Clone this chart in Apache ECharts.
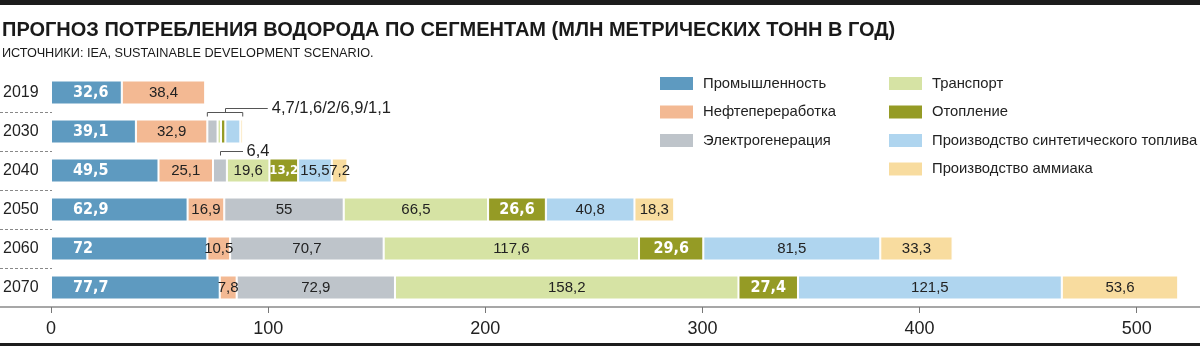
<!DOCTYPE html>
<html>
<head>
<meta charset="utf-8">
<script src="https://cdn.jsdelivr.net/npm/echarts@6/dist/echarts.min.js"></script>
<style>
  html, body { margin: 0; padding: 0; background: #fff; }
  #chart { width: 1200px; height: 346px; }
</style>
</head>
<body>
<div id="chart"></div>
<script>
// ---- data ----
const categories = ['2019', '2030', '2040', '2050', '2060', '2070'];
const seriesNames = ['Промышленность', 'Нефтепереработка', 'Электрогенерация', 'Транспорт', 'Отопление', 'Производство синтетического топлива', 'Производство аммиака'];
const industry  = [32.6, 39.1, 49.5, 62.9, 72, 77.7];
const refining  = [38.4, 32.9, 25.1, 16.9, 10.5, 7.8];
const power     = [null, 4.7, 6.4, 55, 70.7, 72.9];
const transport = [null, 1.6, 19.6, 66.5, 117.6, 158.2];
const heating   = [null, 2, 13.2, 26.6, 29.6, 27.4];
const synfuel   = [null, 6.9, 15.5, 40.8, 81.5, 121.5];
const ammonia   = [null, 1.1, 7.2, 18.3, 33.3, 53.6];
const xTicks = [0, 100, 200, 300, 400, 500];
const title = 'ПРОГНОЗ ПОТРЕБЛЕНИЯ ВОДОРОДА ПО СЕГМЕНТАМ (МЛН МЕТРИЧЕСКИХ ТОНН В ГОД)';
const subtitle = 'ИСТОЧНИКИ: IEA, SUSTAINABLE DEVELOPMENT SCENARIO.';
const note2030 = '4,7/1,6/2/6,9/1,1';
const note2040 = '6,4';

const values = [industry, refining, power, transport, heating, synfuel, ammonia];
const colors = ['#5e9ac0', '#f3b993', '#bec4ca', '#d6e3a4', '#959b25', '#afd5ef', '#f8dc9f'];
const SANS = '"Liberation Sans", Arial, sans-serif';
const COND = '"DejaVu Sans Condensed", "DejaVu Sans", sans-serif';
const fmt = v => String(v).replace('.', ',');

const chart = echarts.init(document.getElementById('chart'), null, { renderer: 'canvas' });

const series = values.map((arr, si) => {
  const bold = si === 0 || si === 4;
  return {
    name: seriesNames[si],
    type: 'bar',
    stack: 'total',
    barWidth: 24,
    data: arr.map(v => (bold && v != null && v < 15) ? { value: v, label: { fontSize: 13 } } : v),
    itemStyle: { color: colors[si], borderColor: '#fff', borderWidth: 1 },
    emphasis: { disabled: true },
    label: {
      show: true,
      position: si === 0 ? 'insideLeft' : 'inside',
      distance: si === 0 ? 22 : 5,
      color: bold ? '#fff' : '#222',
      fontFamily: bold ? COND : SANS,
      fontWeight: bold ? 'bold' : 'normal',
      fontSize: bold ? 16 : 15,
      formatter: p => (p.value == null || p.value < 7) ? '' : fmt(p.value)
    }
  };
});

const legendText = { fontFamily: SANS, fontSize: 14.8, color: '#222', padding: [0, 0, 0, 4] };

chart.setOption({
  animation: false,
  title: [
    { text: title, left: 2, top: 20, padding: 0, textStyle: { fontFamily: SANS, fontWeight: 'bold', fontSize: 20, color: '#1a1a1a' } },
    { text: subtitle, left: 2, top: 47, padding: 0, textStyle: { fontFamily: SANS, fontWeight: 'normal', fontSize: 12.7, color: '#1a1a1a' } }
  ],
  legend: [
    { data: seriesNames.slice(0, 3), orient: 'vertical', left: 658, top: 75, padding: 0, itemWidth: 35, itemHeight: 15, itemGap: 11.5,
      selectedMode: false, icon: 'rect', textStyle: legendText },
    { data: seriesNames.slice(3), orient: 'vertical', left: 887, top: 75, padding: 0, itemWidth: 35, itemHeight: 15, itemGap: 11.5,
      selectedMode: false, icon: 'rect', textStyle: legendText }
  ],
  grid: { left: 50, right: 9, top: 73, height: 234, containLabel: false },
  xAxis: {
    type: 'value', min: 0, max: 525,
    axisLine: { show: false },
    splitLine: { show: false },
    axisTick: { show: true, length: 6, lineStyle: { color: '#777', width: 1 }, customValues: xTicks },
    axisLabel: { customValues: xTicks, margin: 13, fontFamily: SANS, fontSize: 18, color: '#222' }
  },
  yAxis: {
    type: 'category', data: categories, inverse: true,
    axisLine: { show: false }, axisTick: { show: false },
    axisLabel: { align: 'left', margin: 48, fontFamily: SANS, fontSize: 16, color: '#222' }
  },
  series: series
});

// ---- decorations computed from the chart's own scales ----
function decorate() {
  const toPx = (v, cat) => chart.convertToPixel({ gridIndex: 0 }, [v, cat]);
  const g = [];
  const W = chart.getWidth(), H = chart.getHeight();
  const bw = 24;
  // top / bottom rules
  g.push({ type: 'rect', shape: { x: 0, y: 0, width: W, height: 5 }, style: { fill: '#1c1c1c' } });
  g.push({ type: 'rect', shape: { x: 0, y: H - 3, width: W, height: 3 }, style: { fill: '#1c1c1c' } });
  // axis line spanning full width
  const yAxisLine = toPx(0, categories[categories.length - 1])[1] + 39 / 2;
  g.push({ type: 'line', shape: { x1: 0, y1: yAxisLine, x2: W, y2: yAxisLine }, style: { stroke: '#8a8a8a', lineWidth: 1.5 } });
  // dashed separators between rows
  for (let i = 0; i < categories.length - 1; i++) {
    const y = Math.round((toPx(0, categories[i])[1] + toPx(0, categories[i + 1])[1]) / 2) + 0.5;
    g.push({ type: 'line', shape: { x1: 0, y1: y, x2: 52, y2: y }, style: { stroke: '#888', lineWidth: 1, lineDash: [3, 2] } });
  }
  const st = { stroke: '#555', lineWidth: 1, fill: null };
  // 2030 bracket annotation
  {
    const i = 1, cat = categories[i];
    const s = industry[i] + refining[i];
    const e = s + power[i] + transport[i] + heating[i] + synfuel[i] + ammonia[i];
    const [x1, yc] = toPx(s, cat);
    const x2 = toPx(e, cat)[0];
    const top = yc - bw / 2;
    const yh = Math.round(top - 7.5) + 0.5;
    const xm = Math.round((x1 + x2) / 2) + 0.5;
    g.push({ type: 'polyline', shape: { points: [[x1, yh + 4], [x1, yh], [x2, yh], [x2, yh + 4]] }, style: st });
    g.push({ type: 'polyline', shape: { points: [[xm, yh], [xm, yh - 4], [x2 + 25, yh - 4]] }, style: st });
    g.push({ type: 'text', x: x2 + 29, y: yh - 4, style: { text: note2030, font: '16.5px ' + SANS, fill: '#222', verticalAlign: 'middle' } });
  }
  // 2040 power annotation
  {
    const i = 2, cat = categories[i];
    const s = industry[i] + refining[i];
    const [xs0, yc] = toPx(s + power[i] / 2, cat);
    const xs = Math.round(xs0) + 0.5;
    const top = yc - bw / 2;
    const yl = Math.round(top - 8) + 0.5;
    g.push({ type: 'polyline', shape: { points: [[xs, top - 3], [xs, yl], [xs + 22.5, yl]] }, style: st });
    g.push({ type: 'text', x: xs + 26, y: yl, style: { text: note2040, font: '16.5px ' + SANS, fill: '#222', verticalAlign: 'middle' } });
  }
  chart.setOption({ graphic: g });
}
decorate();
</script>
</body>
</html>
